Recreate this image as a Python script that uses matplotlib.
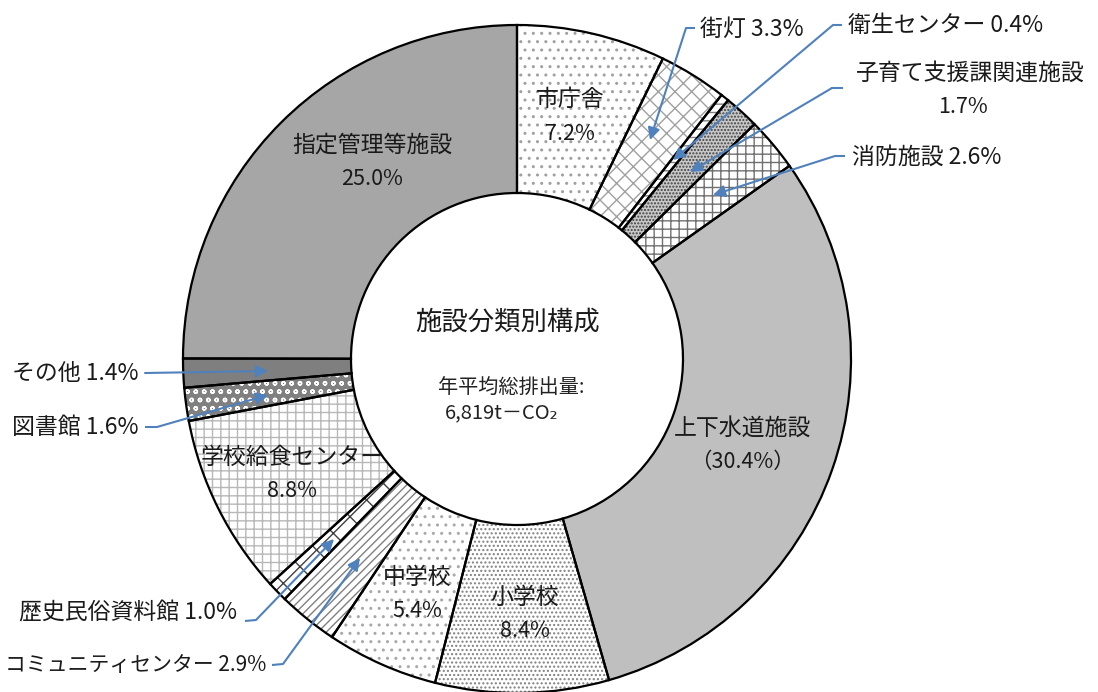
import matplotlib
matplotlib.use('Agg')
import matplotlib.pyplot as plt

plt.rcParams['font.family'] = ['Noto Sans CJK JP', 'DejaVu Sans']
plt.rcParams['hatch.linewidth'] = 1.0

# Data (clockwise from 12 o'clock)
categories = ['市庁舎', '街灯', '衛生センター', '子育て支援課関連施設', '消防施設',
              '上下水道施設', '小学校', '中学校', 'コミュニティセンター', '歴史民俗資料館',
              '学校給食センター', '図書館', 'その他', '指定管理等施設']
shares = [7.2, 3.3, 0.4, 1.7, 2.6, 30.4, 8.4, 5.4, 2.9, 1.0, 8.8, 1.6, 1.4, 25.0]

# fill style per slice: (facecolor, hatch, hatch colour)
styles = [
    ('white', '..', '#A0A0A0'),
    ('white', 'xx', '#A0A0A0'),
    ('white', '--', '#808080'),
    ('#C8C8C8', '.....', '#404040'),
    ('white', '++', '#707070'),
    ('#BFBFBF', None, '#BFBFBF'),
    ('white', '....', '#808080'),
    ('white', '..', '#A8A8A8'),
    ('white', '////', '#808080'),
    ('white', 'x', '#404040'),
    ('white', '++', '#B8B8B8'),
    ('#808080', 'oo', 'white'),
    ('#7F7F7F', None, '#7F7F7F'),
    ('#A6A6A6', None, '#A6A6A6'),
]

W, H = 1098, 692
cx, cy, R, ring = 517, 359, 334, 168


def Y(p):
    return H - p


fig = plt.figure(figsize=(W / 100, H / 100), dpi=100)
ax = fig.add_axes([0, 0, 1, 1])

# hatched fills
wedges, _ = ax.pie(shares, startangle=90, counterclock=False, radius=R,
                   center=(cx, Y(cy)), wedgeprops=dict(width=ring, linewidth=0))
for w, (fc, hatch, hc) in zip(wedges, styles):
    w.set_facecolor(fc)
    w.set_edgecolor(hc)
    if hatch:
        w.set_hatch(hatch)

# outlines
ax.pie(shares, startangle=90, counterclock=False, radius=R, center=(cx, Y(cy)),
       wedgeprops=dict(width=ring, fill=False, edgecolor='black', linewidth=1.6))

ax.set_xlim(0, W)
ax.set_ylim(0, H)
ax.set_aspect('equal')
ax.axis('off')

fs = 16.5
tc = '#1a1a1a'
# labels inside the ring
inside = [
    ('市庁舎', '7.2%', 570, 100),
    ('指定管理等施設', '25.0%', 372, 145),
    ('上下水道施設', '（30.4%）', 742, 428),
    ('小学校', '8.4%', 525, 597),
    ('中学校', '5.4%', 417, 577),
    ('学校給食センター', '8.8%', 292, 457),
]
for name, pct, x, y in inside:
    ax.text(x, Y(y), name, fontsize=fs, ha='center', va='center', color=tc)
    ax.text(x, Y(y + 34), pct, fontsize=fs - 1, ha='center', va='center', color=tc)

# centre text
ax.text(507, Y(322), '施設分類別構成', fontsize=19, ha='center', va='center', color=tc)
ax.text(511, Y(388), '年平均総排出量:', fontsize=14.5, ha='center', va='center', color='#222222')
ax.text(502, Y(413), '6,819t－CO₂', fontsize=14.5, ha='center', va='center', color='#222222')

# callouts: text, text x, text y, ha, size, path points (pixels), arrow tip
blue = '#4F81BD'
callouts = [
    ('街灯 3.3%', 700, 29, 'left', fs, [(695, 28), (686, 28)], (650, 140)),
    ('衛生センター 0.4%', 848, 25, 'left', fs, [(842, 25), (833, 25)], (673, 160)),
    ('消防施設 2.6%', 852, 157, 'left', fs, [(845, 156), (835, 156)], (713, 195)),
    ('その他 1.4%', 138, 373, 'right', fs, [(145, 373)], (268, 371)),
    ('図書館 1.6%', 138, 428, 'right', fs, [(145, 427), (157, 427)], (268, 395)),
    ('歴史民俗資料館 1.0%', 237, 613, 'right', fs, [(245, 621), (256, 620)], (334, 539)),
    ('コミュニティセンター 2.9%', 266, 665, 'right', 15, [(272, 665), (283, 664)], (360, 558)),
]
for txt, tx, ty, ha, size, pts, tip in callouts:
    ax.text(tx, Y(ty), txt, fontsize=size, ha=ha, va='center', color=tc)
    xs = [p[0] for p in pts]
    ys = [Y(p[1]) for p in pts]
    ax.plot(xs, ys, color=blue, lw=1.5, solid_capstyle='butt')
    ax.annotate('', xy=(tip[0], Y(tip[1])), xytext=(xs[-1], ys[-1]),
                arrowprops=dict(arrowstyle='-|>', color=blue, lw=1.5,
                                mutation_scale=18, shrinkA=0, shrinkB=0))

# 子育て支援課関連施設 (two lines)
ax.text(970, Y(73), '子育て支援課関連施設', fontsize=fs, ha='center', va='center', color=tc)
ax.text(963, Y(107), '1.7%', fontsize=fs - 1, ha='center', va='center', color=tc)
ax.plot([842, 832], [Y(88), Y(88)], color=blue, lw=1.5)
ax.annotate('', xy=(690, Y(172)), xytext=(832, Y(88)),
            arrowprops=dict(arrowstyle='-|>', color=blue, lw=1.5,
                            mutation_scale=18, shrinkA=0, shrinkB=0))

fig.savefig('out.png', dpi=100)
